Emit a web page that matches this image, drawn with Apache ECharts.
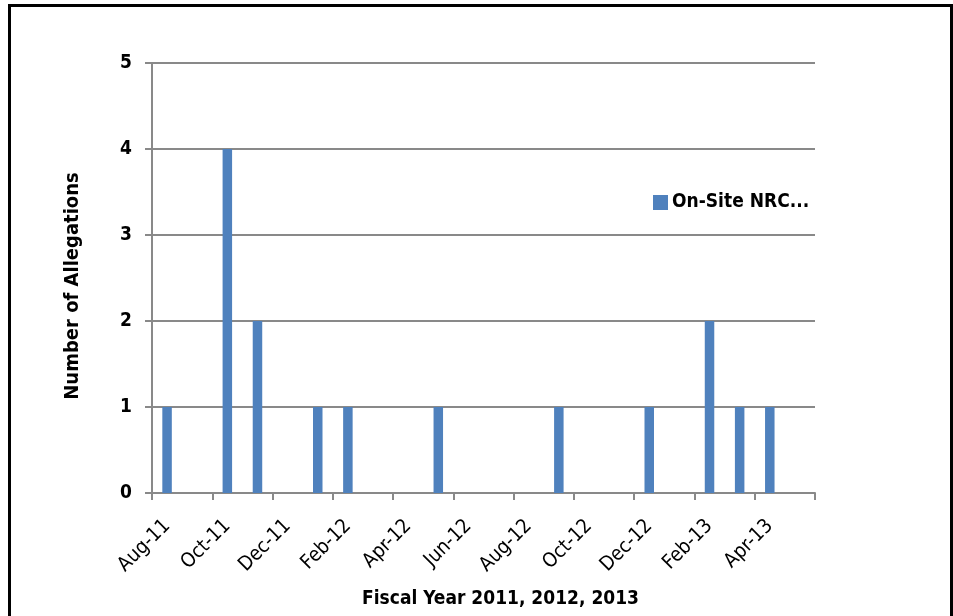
<!DOCTYPE html>
<html>
<head>
<meta charset="utf-8">
<script src="https://cdn.jsdelivr.net/npm/echarts@6/dist/echarts.min.js"></script>
<style>
  html, body { margin: 0; padding: 0; background: #ffffff; }
  #chart { width: 953px; height: 616px; }
</style>
</head>
<body>
<div id="chart"></div>
<script>
// Monthly categories, Aug-11 through May-13
const months = ['Aug-11','Sep-11','Oct-11','Nov-11','Dec-11','Jan-12','Feb-12','Mar-12','Apr-12','May-12',
                'Jun-12','Jul-12','Aug-12','Sep-12','Oct-12','Nov-12','Dec-12','Jan-13','Feb-13','Mar-13',
                'Apr-13','May-13'];
// Allegations received per month (null = none)
const allegations = [1, null, 4, 2, null, 1, 1, null, null, 1,
                     null, null, null, 1, null, null, 1, null, 2, 1,
                     1, null];
const yTicks = [0, 1, 2, 3, 4, 5];
const seriesName = 'On-Site NRC...';

const FONT = "'DejaVu Sans Condensed', 'Liberation Sans', sans-serif";
const GRID_GRAY = '#898989';

const chart = echarts.init(document.getElementById('chart'), null, { renderer: 'canvas' });
chart.setOption({
  animation: false,
  backgroundColor: '#ffffff',
  grid: { left: 152, right: 138, top: 63, bottom: 123, containLabel: false, outerBoundsMode: 'none' },
  legend: {
    left: 653, top: 193, padding: 0,
    itemWidth: 15, itemHeight: 15, itemGap: 4,
    icon: 'rect',
    data: [seriesName],
    textStyle: { fontFamily: FONT, fontSize: 19, fontWeight: 'bold', color: '#000', padding: [0, 0, 0, -1] }
  },
  xAxis: {
    type: 'category',
    data: months,
    boundaryGap: true,
    name: 'Fiscal Year 2011, 2012, 2013',
    nameLocation: 'middle',
    nameGap: 97,
    nameTextStyle: { fontFamily: FONT, fontSize: 19, fontWeight: 'bold', color: '#000', padding: [0, 0, 0, 34] },
    axisLine: { lineStyle: { color: GRID_GRAY, width: 2 } },
    axisTick: { show: true, interval: 1, length: 7, lineStyle: { color: GRID_GRAY, width: 2 } },
    axisLabel: {
      interval: 1, rotate: 45, margin: 30,
      fontFamily: FONT, fontSize: 20, color: '#000'
    },
    splitLine: { show: false }
  },
  yAxis: {
    type: 'value',
    min: 0, max: 5, interval: 1,
    name: 'Number of Allegations',
    nameLocation: 'middle',
    nameGap: 69,
    nameRotate: 90,
    nameTextStyle: { fontFamily: FONT, fontSize: 20, fontWeight: 'bold', color: '#000', padding: [0, 16, 0, 0] },
    axisLine: { show: true, lineStyle: { color: GRID_GRAY, width: 2 } },
    axisTick: { show: true, length: 7, lineStyle: { color: GRID_GRAY, width: 2 } },
    axisLabel: {
      margin: 20,
      fontFamily: FONT, fontSize: 19, fontWeight: 'bold', color: '#000',
      formatter: v => yTicks.includes(v) ? String(v) : ''
    },
    splitLine: { show: true, lineStyle: { color: GRID_GRAY, width: 2 } }
  },
  series: [{
    name: seriesName,
    type: 'bar',
    data: allegations,
    barWidth: 9.5,
    itemStyle: { color: '#4f81bd' }
  }],
  graphic: [{
    type: 'rect',
    shape: { x: 9.5, y: 5.5, width: 942, height: 640 },
    style: { fill: null, stroke: '#000', lineWidth: 3 },
    silent: true
  }]
});
</script>
</body>
</html>
